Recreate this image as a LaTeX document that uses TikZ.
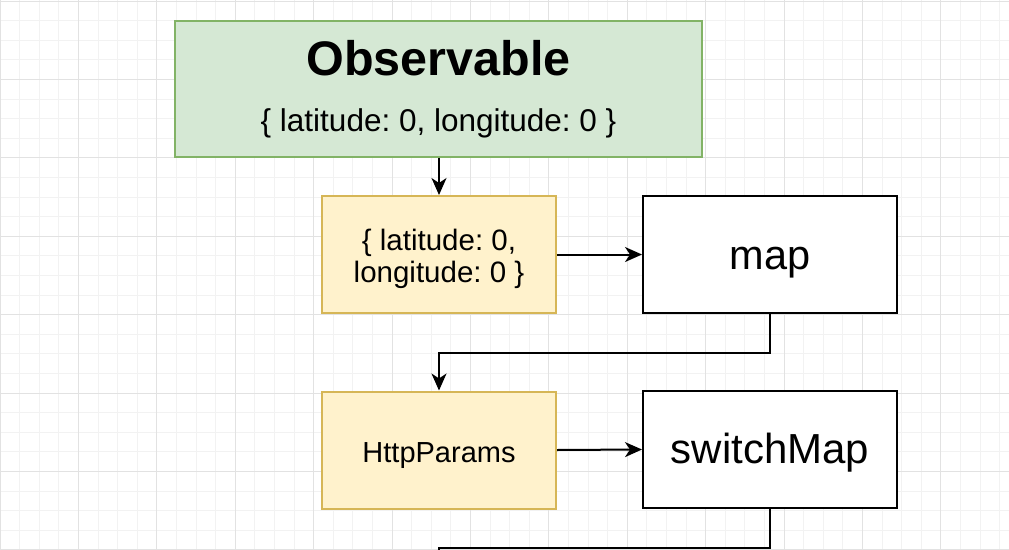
\documentclass[tikz,border=0pt]{standalone}
\usepackage{fontspec}
\setmainfont{Liberation Sans}
\usepackage{tikz}
\usetikzlibrary{arrows.meta}
\frenchspacing

\definecolor{obsfill}{HTML}{D5E8D4}
\definecolor{obsline}{HTML}{82B366}
\definecolor{valfill}{HTML}{FFF2CC}
\definecolor{valline}{HTML}{D6B656}
\definecolor{gridminor}{HTML}{F2F2F2}
\definecolor{gridmajor}{HTML}{E2E2E2}

\tikzset{
  box/.style = {draw, rectangle, inner sep = 0pt, line width = 2pt},
  obsbox/.style = {box, draw = obsline, fill = obsfill, minimum width = 527pt, minimum height = 136pt},
  valbox/.style = {box, draw = valline, fill = valfill, minimum width = 234pt, minimum height = 117pt},
  opbox/.style = {box, draw = black, fill = white, minimum width = 254pt, minimum height = 117pt},
  flow/.style = {line width = 2pt, -{Stealth[length = 17pt, width = 15pt, inset = 5pt]}},
  txt/.style = {anchor = base, inner sep = 0pt}
}

\begin{document}
\begin{tikzpicture}[x = 1pt, y = -1pt]
\useasboundingbox (0, 0) rectangle (1009, 549);
\clip (0, 0) rectangle (1009, 549);
\fill[white] (0, 0) rectangle (1009, 549);

% grid
\foreach \i in {0,...,51} {
  \draw[gridminor, line width = 1pt] (\i*19.6, 0) -- (\i*19.6, 549);
}
\foreach \j in {0,...,28} {
  \draw[gridminor, line width = 1pt] (0, 1 + \j*19.6) -- (1009, 1 + \j*19.6);
}
\foreach \i in {0,...,12} {
  \draw[gridmajor, line width = 1pt] (\i*78.4, 0) -- (\i*78.4, 549);
}
\foreach \j in {0,...,7} {
  \draw[gridmajor, line width = 1pt] (0, 1 + \j*78.4) -- (1009, 1 + \j*78.4);
}

\node[obsbox] (obs) at (438.5, 88.5) {};
\node[txt] (obsTitle) at (438.5, 75) {\fontsize{48.5}{58}\selectfont\bfseries Observable};
\node[txt] (obsValue) at (438.5, 131) {\fontsize{31.5}{38}\selectfont \{ latitude: 0, longitude: 0 \}};

\node[valbox] (coords) at (439, 254.5) {};
\node[txt] (coordsA) at (439, 250) {\fontsize{29.5}{35}\selectfont \{ latitude: 0,};
\node[txt] (coordsB) at (439, 282) {\fontsize{29.5}{35}\selectfont longitude: 0 \}};

\node[opbox] (map) at (770, 254.5) {};
\node[txt] (mapT) at (770, 269) {\fontsize{41.5}{50}\selectfont map};

\node[valbox] (params) at (439, 450) {};
\node[txt] (paramsT) at (439, 462) {\fontsize{29}{35}\selectfont HttpParams};

\node[opbox] (switch) at (770, 449.5) {};
\node[txt] (switchT) at (770, 463) {\fontsize{42}{50}\selectfont switchMap};

\coordinate (next) at (439, 600);

\draw[flow] (obs.south -| coords.north) -- (coords.north);
\draw[flow] (coords.east) -- (map.west);
\draw[flow] (map.south) -- ++(0, 39) -| (params.north);
\draw[flow] (params.east) -- (switch.west);
\draw[flow] (switch.south) -- ++(0, 39) -| (next);

\end{tikzpicture}
\end{document}
